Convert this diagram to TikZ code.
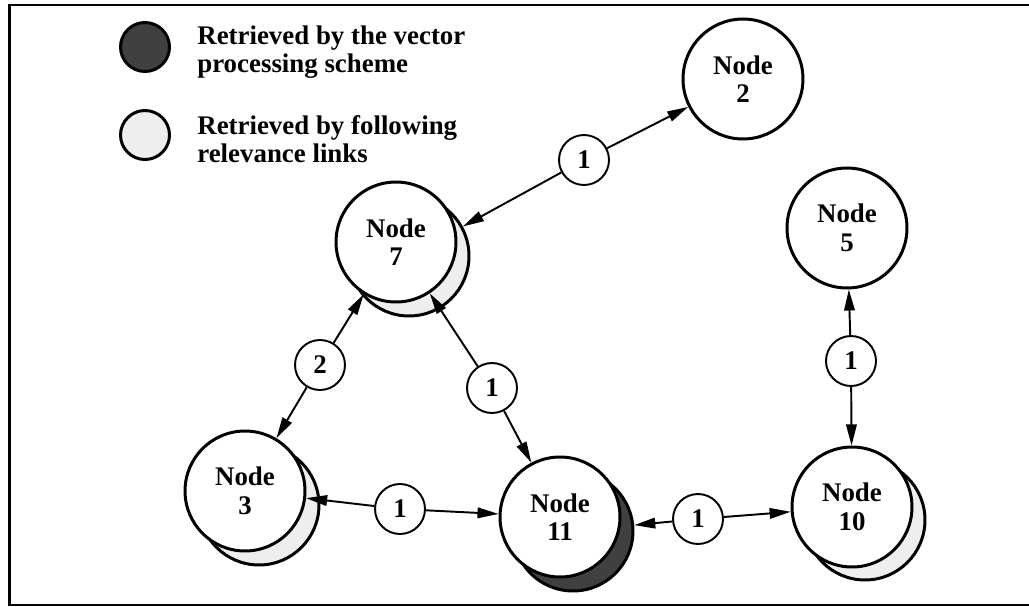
\documentclass[tikz,border=0pt]{standalone}
\usepackage{fontspec}
\setmainfont{Liberation Serif}
\usepackage{tikz}
\usetikzlibrary{arrows.meta,positioning}
\usepackage{xcolor}
\definecolor{vecdark} {RGB}{ 64,  64,  64}
\definecolor{linklight}{RGB}{238, 238, 238}

\begin{document}
\begin{tikzpicture}[
  x=0.02cm,y=-0.02cm,
  every node/.style={font=\bfseries\fontsize{15.3}{16.2}\selectfont},
  doc/.style={circle,draw,line width=1.7pt,fill=white,minimum size=2.4cm,
              inner sep=0pt,align=center},
  litshadow/.style={doc,fill=linklight},
  darkshadow/.style={doc,fill=vecdark},
  weight/.style={circle,draw,line width=1.1pt,fill=white,minimum size=1.0cm,
                 inner sep=0pt},
  keydot/.style={circle,draw,line width=1.7pt,minimum size=0.98cm,inner sep=0pt},
  keytext/.style={anchor=west,align=left,inner sep=0pt},
  arr/.style={-{Triangle[length=12pt,width=6pt]},line width=1.1pt},
]
\useasboundingbox (0,0) rectangle (1029,606);

%% ── Frame (open on the right) ────────────────────────────────────────────
\draw[line width=1.6pt] (1029,5) -- (9.5,5) -- (9.5,605) -- (1029,605);

%% ── Legend ───────────────────────────────────────────────────────────────
\node[keydot,fill=vecdark] (keyvec) at (145,47) {};
\node[keytext] (keyvectxt) at (197,52) {Retrieved by the vector\\processing scheme};
\node[keydot,fill=linklight] (keylink) at (145,135) {};
\node[keytext] (keylinktxt) at (197,139) {Retrieved by following\\relevance links};

%% ── Shadows ──────────────────────────────────────────────────────────────
\node[litshadow]  (n7s)  at (409,256) {};
\node[litshadow]  (n3s)  at (259,505) {};
\node[darkshadow] (n11s) at (573,531) {};
\node[litshadow]  (n10s) at (865,520) {};

%% ── Documents ────────────────────────────────────────────────────────────
\node[doc] (n2)  at (743,79)  {Node\\2};
\node[doc] (n7)  at (396,242) {Node\\7};
\node[doc] (n5)  at (847,228) {Node\\5};
\node[doc] (n3)  at (245,491) {Node\\3};
\node[doc] (n11) at (560,517) {Node\\11};
\node[doc] (n10) at (852,507) {Node\\10};

%% ── Link weights ─────────────────────────────────────────────────────────
\node[weight] (w27)   at (584,160) {1};
\node[weight] (w37)   at (320,365) {2};
\node[weight] (w711)  at (492,388) {1};
\node[weight] (w510)  at (851,361) {1};
\node[weight] (w311)  at (400,509) {1};
\node[weight] (w1110) at (698,519) {1};

%% ── Relevance links ──────────────────────────────────────────────────────
\draw[arr] (w27) -- (n2);
\draw[arr] (w27) -- (n7s);
\draw[arr] (w37) -- (n7);
\draw[arr] (w37) -- (n3);
\draw[arr] (w711) -- (n7);
\draw[arr] (w711) -- (n11);
\draw[arr] (w510) -- (n5);
\draw[arr] (w510) -- (n10);
\draw[arr] (w311) -- (n3);
\draw[arr] (w311) -- (n11);
\draw[arr] (w1110) -- (n11s);
\draw[arr] (w1110) -- (n10);

\end{tikzpicture}
\end{document}
